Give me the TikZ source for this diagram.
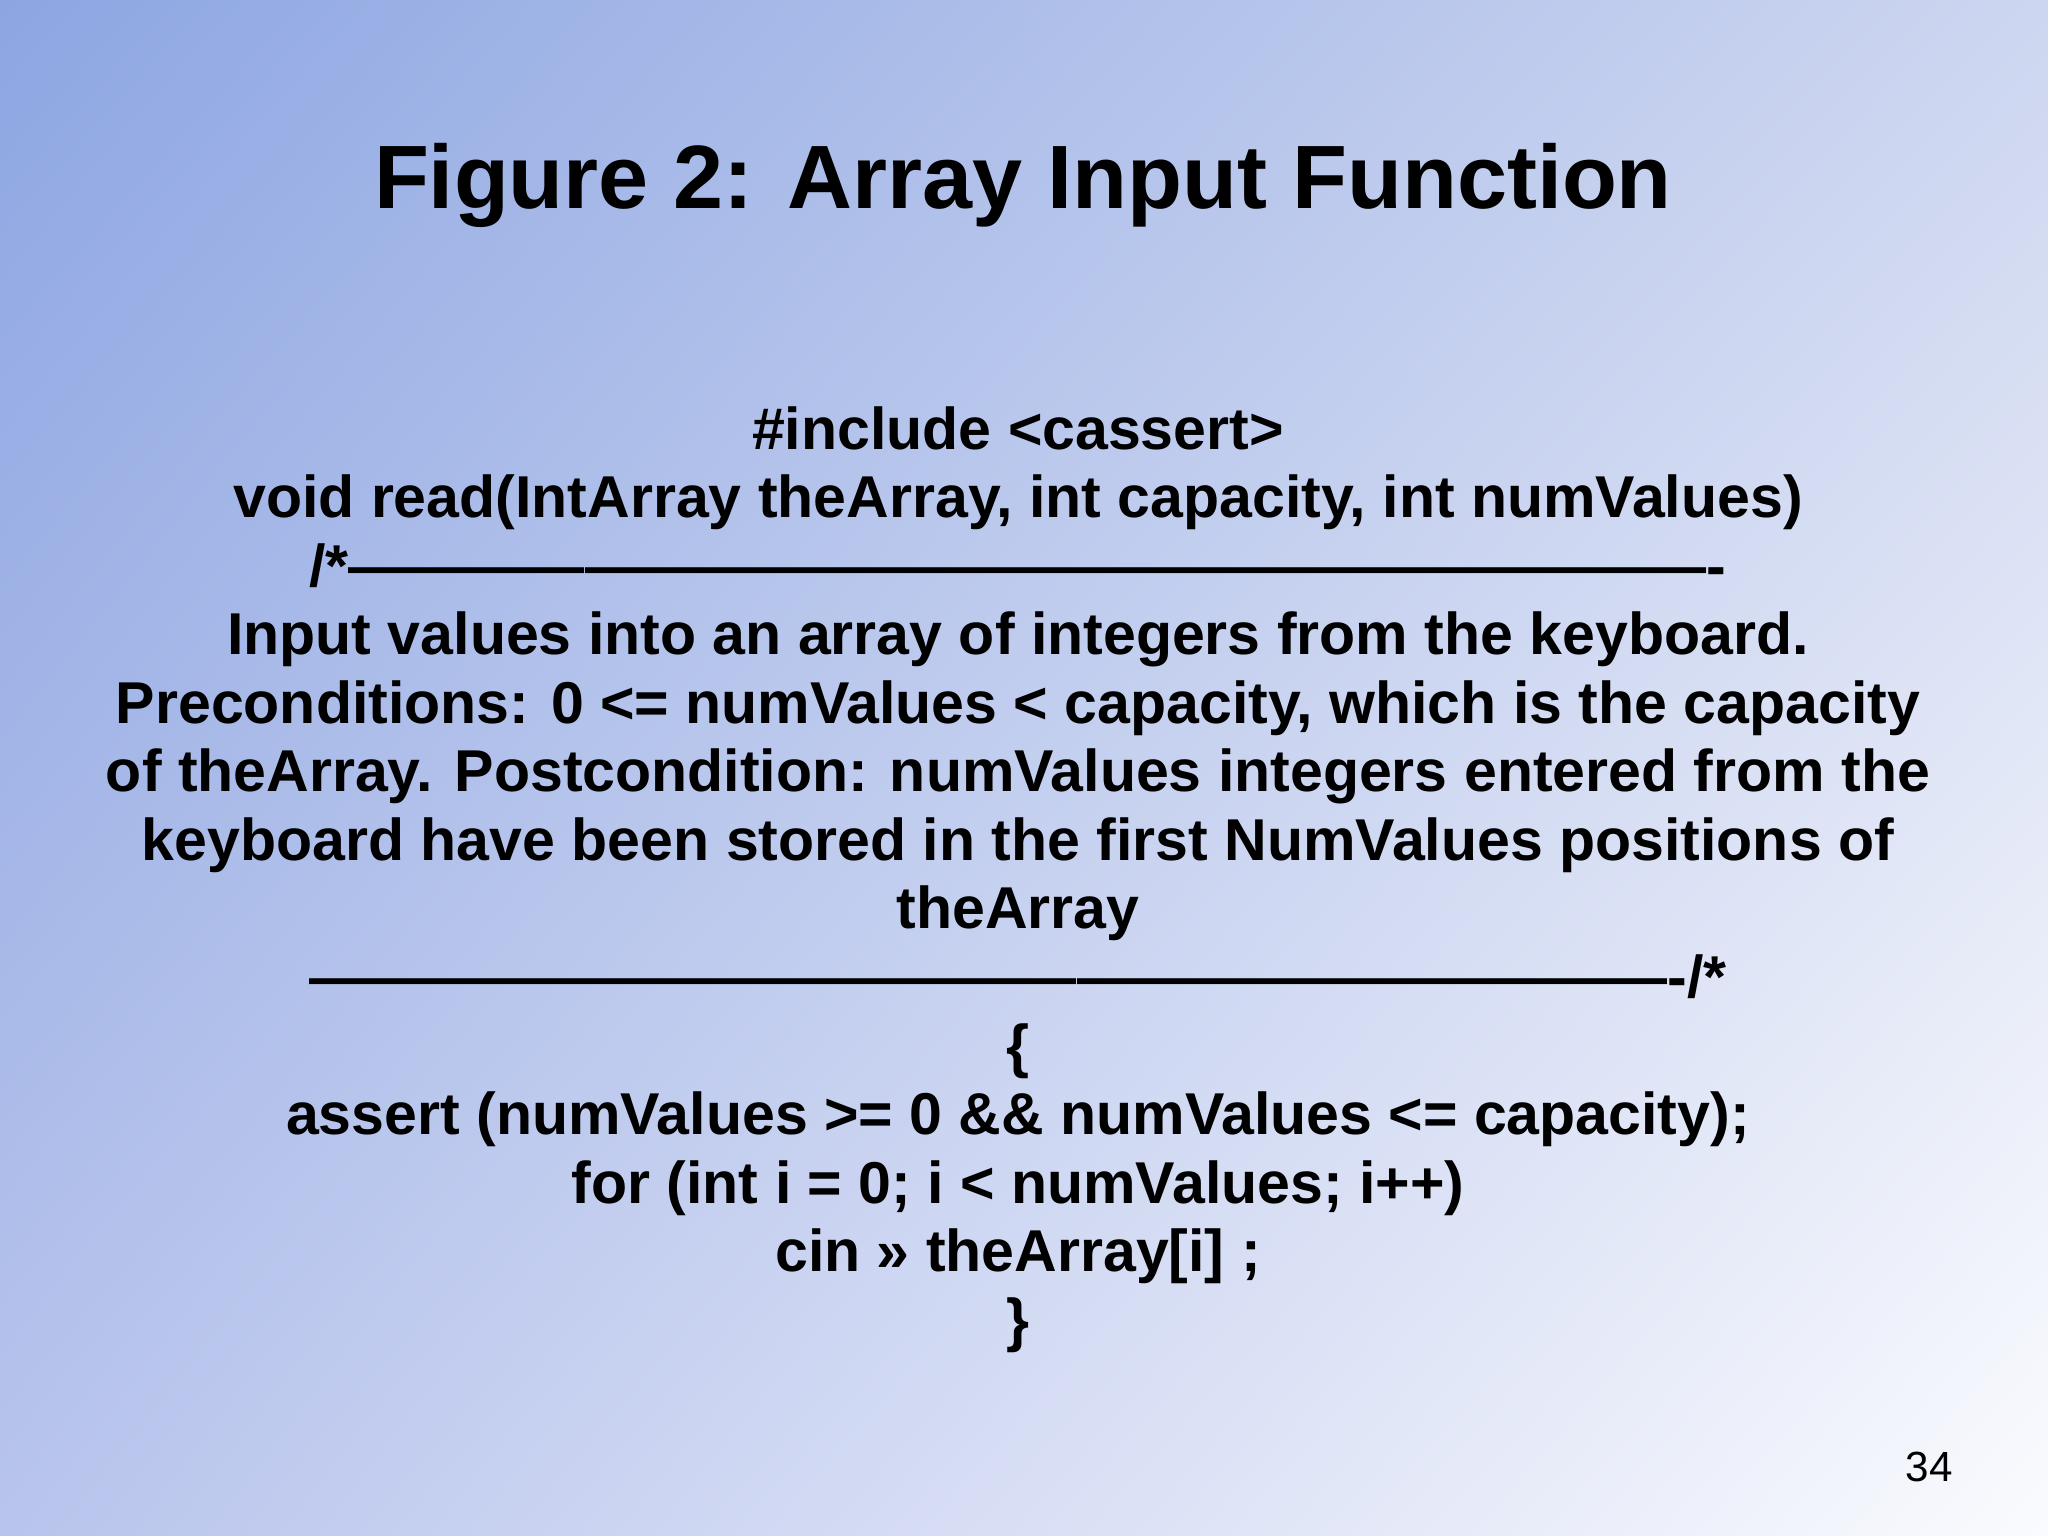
\documentclass[tikz,border=0pt]{standalone}
\usepackage{fontspec}
\usetikzlibrary{shadings}
\setmainfont{Liberation Sans}
\definecolor{cul}{RGB}{141,166,226}
\definecolor{cur}{RGB}{205,214,240}
\definecolor{cll}{RGB}{184,196,236}
\definecolor{clr}{RGB}{250,251,254}
\begin{document}
\begin{tikzpicture}
\useasboundingbox (0,0) rectangle (20.48,15.36);
\shade[upper left=cul, upper right=cur, lower left=cll, lower right=clr]
 (0,0) rectangle (20.48,15.36);
\node[font=\fontsize{25.6}{30}\selectfont\bfseries] (title) at (10.23,13.51) {Figure 2: Array Input Function};
\node[font=\fontsize{16.8}{19.5}\selectfont\bfseries, align=center, anchor=north] (body) at (10.18,11.42) {%
\#include <cassert>\\
void read(IntArray theArray, int capacity, int numValues)\\
/*----------------------------------------------------------------------\\
Input values into an array of integers from the keyboard.\\
Preconditions: 0 <= numValues < capacity, which is the capacity\\
of theArray. Postcondition: numValues integers entered from the\\
keyboard have been stored in the first NumValues positions of\\
theArray\\
----------------------------------------------------------------------/*\\
\{\\
assert (numValues >= 0 \&\& numValues <= capacity);\\
for (int i = 0; i < numValues; i++)\\
cin » theArray[i] ;\\
\}};
\node[font=\fontsize{12}{14}\selectfont] (num) at (19.29,0.69) {34};
\end{tikzpicture}
\end{document}
